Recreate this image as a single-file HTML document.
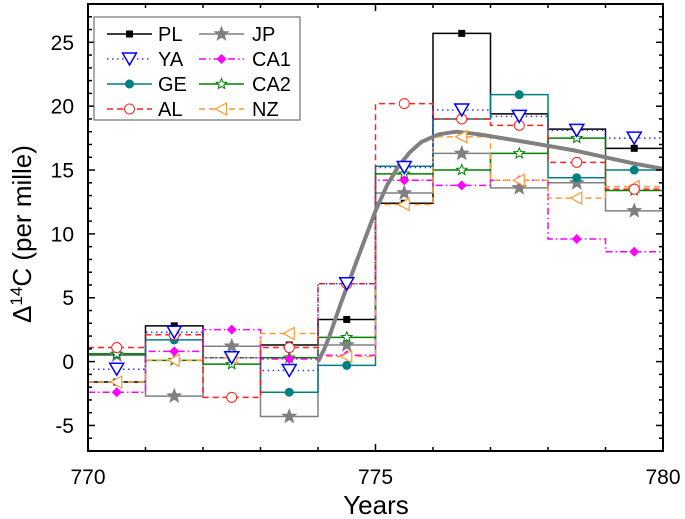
<!DOCTYPE html>
<html><head><meta charset="utf-8"><style>
html,body{margin:0;padding:0;background:#fff;}
svg{display:block;font-family:"Liberation Sans",Arial,sans-serif;}
</style></head><body>
<svg id="chart" width="685" height="519" viewBox="0 0 685 519" xmlns="http://www.w3.org/2000/svg">
<g id="series"></g>
<g id="axes"></g>
<g id="legend"></g>
</svg>
<script>
const years = [770,771,772,773,774,775,776,777,778,779];
const PL  = [-1.6, 2.8, 0.3, 1.3, 3.3, 12.4, 25.7, 19.4, 18.2, 16.7];
const YA  = [-0.6, 2.3, 0.3, -0.7, 6.1, 15.2, 19.7, 19.2, 18.1, 17.5];
const GE  = [0.6, 1.7, 0.3, -2.4, -0.3, 15.3, 19.0, 20.9, 14.4, 15.0];
const AL  = [1.1, 2.1, -2.8, 1.1, 6.1, 20.2, 19.0, 18.5, 15.6, 13.5];
const JP  = [0.5, -2.7, 1.2, -4.3, 1.3, 13.2, 16.3, 13.6, 14.0, 11.8];
const CA1 = [-2.4, 0.8, 2.5, 0.2, 0.5, 14.2, 13.8, 14.2, 9.6, 8.6];
const CA2 = [0.6, 0.1, -0.2, 0.3, 1.9, 14.7, 15.0, 16.3, 17.5, 13.4];
const NZ  = [-1.6, 0.1, 0.3, 2.2, 0.4, 12.3, 17.6, 14.2, 12.8, 13.7];
const curveT = [774, 774.1, 774.2, 774.3, 774.4, 774.5, 774.65, 774.8, 775, 775.2, 775.4, 775.6, 775.8, 776.1, 776.4, 776.8, 777.2, 777.6, 778, 778.5, 779, 779.5, 780];
const curveV = [0, 0.9, 2.0, 3.3, 4.6, 5.8, 7.6, 9.4, 11.8, 13.8, 15.3, 16.4, 17.2, 17.8, 18.0, 17.8, 17.5, 17.2, 16.9, 16.5, 16.0, 15.5, 15.1];
const xTicks = [770, 775, 780];
const yTicks = [-5, 0, 5, 10, 15, 20, 25];

const L=88,R=663,T=4,B=451, X0=770,X1=780,Y0=-7,Y1=28;
const x=v=>L+(v-X0)/(X1-X0)*(R-L);
const y=v=>B-(v-Y0)/(Y1-Y0)*(B-T);
const NS="http://www.w3.org/2000/svg";
function mk(tag,attrs,parent){const e=document.createElementNS(NS,tag);for(const k in attrs)e.setAttribute(k,attrs[k]);parent.appendChild(e);return e;}
const S=document.getElementById('series'),A=document.getElementById('axes'),G=document.getElementById('legend');

function starPts(cx,cy,ro,ri){let p=[];for(let i=0;i<10;i++){const r=i%2?ri:ro,a=-Math.PI/2+i*Math.PI/5;p.push((cx+r*Math.cos(a)).toFixed(1)+','+(cy+r*Math.sin(a)).toFixed(1));}return p.join(' ');}
function marker(type,cx,cy,parent){
  let e;
  if(type==='PL') e=mk('rect',{x:cx-3.5,y:cy-3.5,width:7,height:7,fill:'#000'},parent);
  else if(type==='JP') e=mk('polygon',{points:starPts(cx,cy,8.5,3.6),fill:'#808080'},parent);
  else if(type==='YA') e=mk('polygon',{points:`${cx-7},${cy-6} ${cx+7},${cy-6} ${cx},${cy+6}`,fill:'#fff',stroke:'#0000ff','stroke-width':1.5},parent);
  else if(type==='CA1') e=mk('polygon',{points:`${cx},${cy-5} ${cx+5},${cy} ${cx},${cy+5} ${cx-5},${cy}`,fill:'#ff00ff'},parent);
  else if(type==='GE') e=mk('circle',{cx:cx,cy:cy,r:4.5,fill:'#008080'},parent);
  else if(type==='CA2') e=mk('polygon',{points:starPts(cx,cy,5.5,2.4),fill:'#fff',stroke:'#008000','stroke-width':1},parent);
  else if(type==='AL') e=mk('circle',{cx:cx,cy:cy,r:5,fill:'#fff',stroke:'#ff2020','stroke-width':1},parent);
  else if(type==='NZ') e=mk('polygon',{points:`${cx-6},${cy} ${cx+5},${cy-6} ${cx+5},${cy+6}`,fill:'#fff',stroke:'#ff9933','stroke-width':1.2},parent);
  return e;
}
const series=[
 {n:'PL',d:PL,c:'#000000',da:''},
 {n:'JP',d:JP,c:'#808080',da:''},
 {n:'GE',d:GE,c:'#008080',da:''},
 {n:'CA2',d:CA2,c:'#008000',da:''},
 {n:'CA1',d:CA1,c:'#ff00ff',da:'7,3,1.5,3'},
 {n:'NZ',d:NZ,c:'#ff9933',da:'6,4'},
 {n:'AL',d:AL,c:'#ff2020',da:'6,4'},
 {n:'YA',d:YA,c:'#3333ff',da:'1.5,3.5'}
];
series.forEach(s=>{
  let d=`M${x(years[0])},${y(s.d[0])}`;
  s.d.forEach((v,i)=>{ if(i>0) d+=` V${y(v)}`; d+=` H${x(years[i]+1)}`; });
  const p=mk('path',{d:d,fill:'none',stroke:s.c,'stroke-width':1.5,'stroke-dasharray':s.da},S);
  
  
});
let cd='';curveT.forEach((t,i)=>{cd+=(i?' L':'M')+x(t).toFixed(1)+','+y(curveV[i]).toFixed(1);});
const cv=mk('path',{d:cd,fill:'none',stroke:'#808080','stroke-width':4,'stroke-linejoin':'round'},S);


series.forEach(s=>{
  s.d.forEach((v,i)=>{
    const m=marker(s.n,x(years[i]+0.5),y(v),S);
    
    
  });
});
const fr=mk('rect',{x:L,y:T,width:R-L,height:B-T,fill:'none',stroke:'#000','stroke-width':2},A);


for(let v=X0;v<=X1;v++){
  const len=(v%5===0)?7:4;
  mk('line',{x1:x(v),x2:x(v),y1:B,y2:B-len,stroke:'#000','stroke-width':1.5},A);
  mk('line',{x1:x(v),x2:x(v),y1:T,y2:T+len,stroke:'#000','stroke-width':1.5},A);
}
for(let v=Y0;v<=Y1;v++){
  const len=(v%5===0)?7:4;
  mk('line',{x1:L,x2:L+len,y1:y(v),y2:y(v),stroke:'#000','stroke-width':1.5},A);
  mk('line',{x1:R,x2:R-len,y1:y(v),y2:y(v),stroke:'#000','stroke-width':1.5},A);
}
xTicks.forEach(v=>{
  const t=mk('text',{x:x(v),y:484,'font-size':21,'text-anchor':'middle',fill:'#000'},A);
  t.textContent=v;
  
  
});
yTicks.forEach(v=>{
  const t=mk('text',{x:74,y:y(v)+7.5,'font-size':21,'text-anchor':'end',fill:'#000'},A);
  t.textContent=v;
  
  
});
const xt=mk('text',{x:376,y:514,'font-size':26,'text-anchor':'middle',fill:'#000'},A);
xt.textContent='Years';


const yt=mk('text',{x:0,y:0,'font-size':26,'text-anchor':'middle',fill:'#000',transform:'translate(31,234) rotate(-90)'},A);
yt.innerHTML='Δ<tspan dy="-9" font-size="17">14</tspan><tspan dy="9">C (per mille)</tspan>';


const lb=mk('rect',{x:94,y:17,width:206,height:103,fill:'#fff',stroke:'#555','stroke-width':1},G);


const leg=[['PL',0,0],['JP',1,0],['YA',0,1],['CA1',1,1],['GE',0,2],['CA2',1,2],['AL',0,3],['NZ',1,3]];
leg.forEach(([n,c,r])=>{
  const s=series.find(q=>q.n===n);
  const lx=c?199:107, ly=34+r*25;
  const g=mk('g',{},G);
  
  
  mk('line',{x1:lx,x2:lx+45,y1:ly,y2:ly,stroke:s.c,'stroke-width':1.5,'stroke-dasharray':s.da},g);
  marker(n,lx+22.5,ly,g);
  const t=mk('text',{x:c?252:158,y:ly+7,'font-size':20,fill:'#000'},g);
  t.textContent=n;
});
</script>
</body></html>
